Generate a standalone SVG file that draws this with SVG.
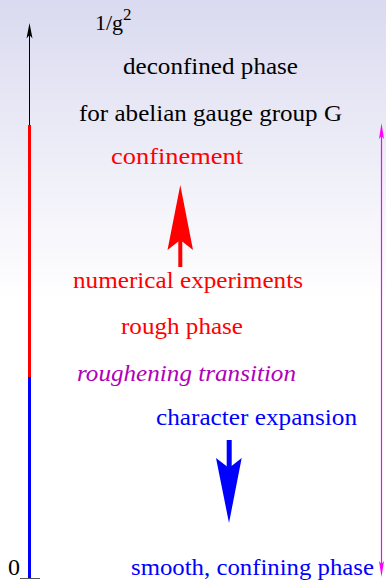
<svg xmlns="http://www.w3.org/2000/svg" width="386" height="582" viewBox="0 0 386 582">
  <defs>
    <linearGradient id="bg" x1="0" y1="0" x2="0" y2="1">
      <stop offset="0" stop-color="#dadaf0"/>
      <stop offset="1" stop-color="#ffffff"/>
    </linearGradient>
    <style>
      text { font-family: "Liberation Serif", "Times New Roman", serif; font-size: 24px; }
      .blk { fill: #000000; }
      .red { fill: #ff0000; }
      .blu { fill: #0000ff; }
      .pur { fill: #b000b8; font-style: italic; }
      .ax { font-size: 22px; }
      .sup { font-size: 17px; }
    </style>
  </defs>
  <rect x="0" y="0" width="386" height="582" fill="#ffffff"/>
  <rect x="0" y="0" width="386" height="300" fill="url(#bg)"/>

  <g id="connectors">
    <!-- vertical axis -->
    <line x1="29.5" y1="34" x2="29.5" y2="125" stroke="#000" stroke-width="1"/>
    <polygon points="29.5,23 32.5,38.5 29.5,35 26.5,38.5" fill="#000"/>
    <line x1="29.5" y1="125" x2="29.5" y2="377" stroke="#ff0000" stroke-width="3"/>
    <line x1="29.5" y1="377" x2="29.5" y2="578" stroke="#0000ff" stroke-width="3"/>
    <line x1="20" y1="578.5" x2="40" y2="578.5" stroke="#555" stroke-width="1"/>
    <!-- magenta double arrow -->
    <line x1="381.5" y1="132" x2="381.5" y2="568" stroke="#ff00ff" stroke-width="1.2"/>
    <polygon points="381.5,123 384,139 381.5,136 379,139" fill="#ff00ff"/>
    <polygon points="381.5,577 384,561 381.5,564 379,561" fill="#ff00ff"/>
    <!-- red arrow up -->
    <rect x="178.3" y="238" width="4" height="29" fill="#ff0000"/>
    <polygon points="180.3,185 193,250 180.3,240 167.5,250" fill="#ff0000"/>
    <!-- blue arrow down -->
    <rect x="226.7" y="440" width="5" height="30" fill="#0000ff"/>
    <polygon points="229,523 241.7,458 229,468 216,458" fill="#0000ff"/>
  </g>

  <g id="axis-top"><text class="blk ax" x="95" y="30">1/g</text><text class="blk sup" x="123" y="20">2</text></g>
  <g id="axis-zero"><text class="blk" x="8" y="575">0</text></g>
  <g id="deconfined"><text class="blk" x="123" y="74" textLength="175" lengthAdjust="spacingAndGlyphs">deconfined phase</text></g>
  <g id="abelian"><text class="blk" x="79" y="121" textLength="263" lengthAdjust="spacingAndGlyphs">for abelian gauge group G</text></g>
  <g id="confinement"><text class="red" x="111" y="164" textLength="132" lengthAdjust="spacingAndGlyphs">confinement</text></g>
  <g id="numerical"><text class="red" x="73" y="288" textLength="230" lengthAdjust="spacingAndGlyphs">numerical experiments</text></g>
  <g id="rough"><text class="red" x="121" y="334" textLength="122" lengthAdjust="spacingAndGlyphs">rough phase</text></g>
  <g id="roughening"><text class="pur" x="77" y="381" textLength="219" lengthAdjust="spacingAndGlyphs">roughening transition</text></g>
  <g id="character"><text class="blu" x="156" y="425" textLength="201" lengthAdjust="spacingAndGlyphs">character expansion</text></g>
  <g id="smooth"><text class="blu" x="131" y="575" textLength="243" lengthAdjust="spacingAndGlyphs">smooth, confining phase</text></g>
</svg>
